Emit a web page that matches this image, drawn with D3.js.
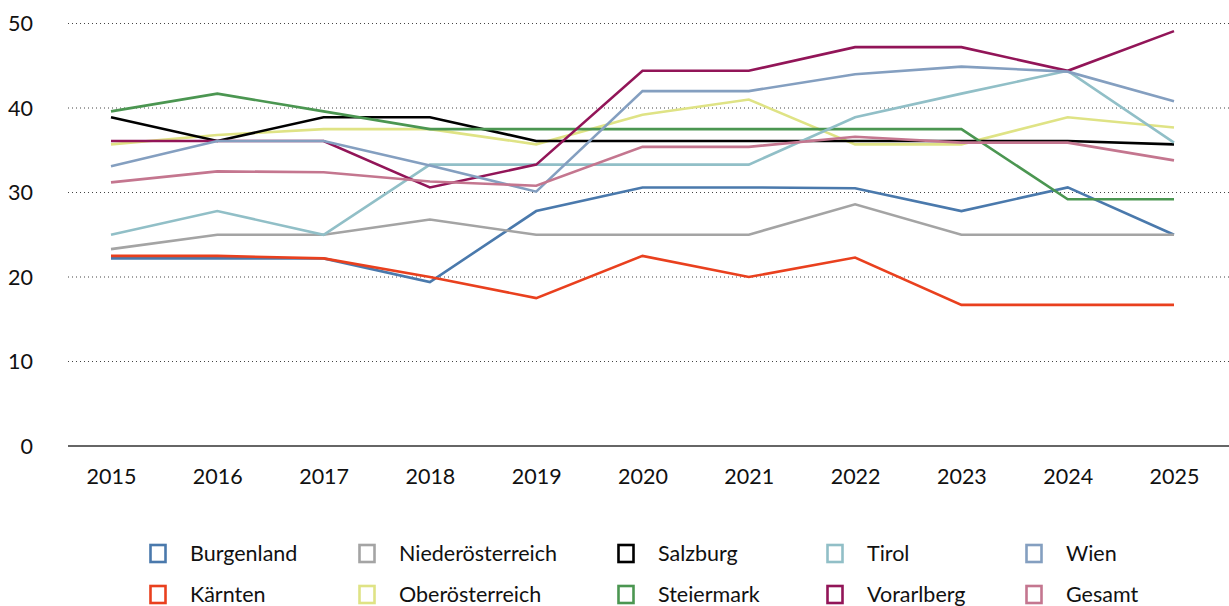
<!DOCTYPE html>
<html>
<head>
<meta charset="utf-8">
<script src="https://cdn.jsdelivr.net/npm/d3@7"></script>
<style>
  body { margin: 0; background: #fff; }
  text { font-family: Lato, "Open Sans", sans-serif; fill: #111; }
</style>
</head>
<body>
<div id="chart-area"></div>
<script>
// Data
var years = [2015, 2016, 2017, 2018, 2019, 2020, 2021, 2022, 2023, 2024, 2025]
var yTicks = [0, 10, 20, 30, 40, 50]

var burgenland       = [22.2, 22.2, 22.2, 19.4, 27.8, 30.6, 30.6, 30.5, 27.8, 30.6, 25.0]
var kaernten         = [22.5, 22.5, 22.2, 20.0, 17.5, 22.5, 20.0, 22.3, 16.7, 16.7, 16.7]
var niederoesterreich= [23.3, 25.0, 25.0, 26.8, 25.0, 25.0, 25.0, 28.6, 25.0, 25.0, 25.0]
var oberoesterreich  = [35.7, 36.8, 37.5, 37.5, 35.7, 39.2, 41.0, 35.7, 35.7, 38.9, 37.7]
var salzburg         = [38.9, 36.1, 38.9, 38.9, 36.1, 36.1, 36.1, 36.1, 36.1, 36.1, 35.7]
var steiermark       = [39.6, 41.7, 39.6, 37.5, 37.5, 37.5, 37.5, 37.5, 37.5, 29.2, 29.2]
var tirol            = [25.0, 27.8, 25.0, 33.3, 33.3, 33.3, 33.3, 38.9, 41.7, 44.4, 35.9]
var vorarlberg       = [36.1, 36.1, 36.1, 30.6, 33.3, 44.4, 44.4, 47.2, 47.2, 44.4, 49.1]
var wien             = [33.1, 36.1, 36.1, 33.2, 30.1, 42.0, 42.0, 44.0, 44.9, 44.3, 40.8]
var gesamt           = [31.2, 32.5, 32.4, 31.3, 30.8, 35.4, 35.4, 36.6, 35.9, 35.9, 33.8]

var names  = ["Burgenland", "Kärnten", "Niederösterreich", "Oberösterreich", "Salzburg",
              "Steiermark", "Tirol", "Vorarlberg", "Wien", "Gesamt"]
var values = [burgenland, kaernten, niederoesterreich, oberoesterreich, salzburg,
              steiermark, tirol, vorarlberg, wien, gesamt]
var colors = ["#4a79ac", "#e9401e", "#a4a4a4", "#dfe385", "#000000",
              "#4b9651", "#91bfc7", "#921558", "#849fc0", "#c4768f"]

var series = names.map(function(n, i){
    return {name: n, color: colors[i], values: values[i].map(function(v, j){ return {year: years[j], value: v} })}
})

// Canvas
var width = 1229, height = 606
var fontSize = 21.5

var svg = d3.select("#chart-area")
    .append("svg")
        .attr("width", width)
        .attr("height", height)

// Scales
var x = d3.scalePoint()
    .domain(years)
    .range([111, 1174])

var y = d3.scaleLinear()
    .domain([0, 50])
    .range([446, 23.5])

// Gridlines
svg.append("g")
    .selectAll("line")
    .data(yTicks.filter(function(d){ return d > 0 }))
    .enter().append("line")
        .attr("x1", 68)
        .attr("x2", width)
        .attr("y1", function(d){ return y(d) })
        .attr("y2", function(d){ return y(d) })
        .attr("stroke", "#444")
        .attr("stroke-width", 1)
        .attr("stroke-dasharray", "1,3")

// Baseline
svg.append("line")
    .attr("x1", 68)
    .attr("x2", width)
    .attr("y1", y(0))
    .attr("y2", y(0))
    .attr("stroke", "#333")
    .attr("stroke-width", 1.5)

// Y axis labels
svg.append("g")
    .selectAll("text")
    .data(yTicks)
    .enter().append("text")
        .attr("x", 33)
        .attr("y", function(d){ return y(d) })
        .attr("dy", "0.35em")
        .attr("text-anchor", "end")
        .attr("font-size", fontSize)
        .text(function(d){ return d })

// X axis
var xAxisCall = d3.axisBottom(x).tickSize(0).tickPadding(23)
var xAxis = svg.append("g")
    .attr("transform", "translate(0, " + y(0) + ")")
    .call(xAxisCall)
xAxis.select(".domain").remove()
xAxis.selectAll("text")
    .attr("font-size", fontSize)
    .attr("font-family", "Lato, sans-serif")
    .attr("fill", "#111")

// Lines
var line = d3.line()
    .x(function(d){ return x(d.year) })
    .y(function(d){ return y(d.value) })

svg.append("g")
    .selectAll("path")
    .data(series)
    .enter().append("path")
        .attr("d", function(d){ return line(d.values) })
        .attr("fill", "none")
        .attr("stroke", function(d){ return d.color })
        .attr("stroke-width", 2.6)
        .attr("stroke-linejoin", "miter")

// Legend: two rows, five columns, ordered by column
var legendCols = [149, 358, 617, 826, 1025]
var legendRows = [553, 594]

var legend = svg.append("g")
    .selectAll("g")
    .data(series)
    .enter().append("g")
        .attr("transform", function(d, i){
            return "translate(" + legendCols[Math.floor(i / 2)] + ", " + legendRows[i % 2] + ")"
        })

legend.append("rect")
    .attr("x", 1.5)
    .attr("y", -8)
    .attr("width", 15)
    .attr("height", 17)
    .attr("fill", "none")
    .attr("stroke", function(d){ return d.color })
    .attr("stroke-width", 2.6)

legend.append("text")
    .attr("x", 41)
    .attr("y", 0)
    .attr("dy", "0.35em")
    .attr("font-size", fontSize)
    .text(function(d){ return d.name })
</script>
</body>
</html>
